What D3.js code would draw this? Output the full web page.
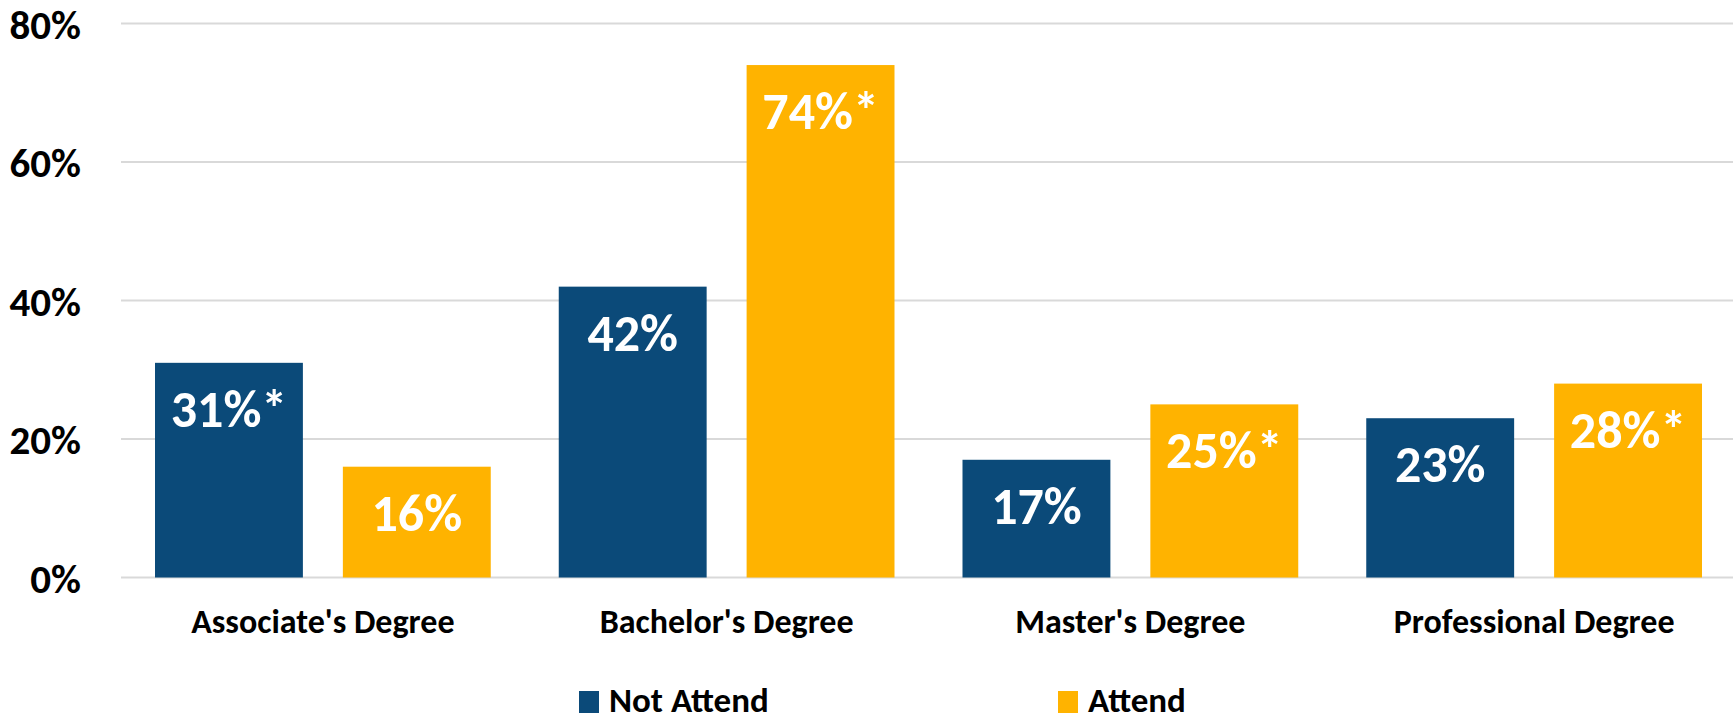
<!DOCTYPE html>
<html>
<head>
<meta charset="utf-8">
<script src="https://cdn.jsdelivr.net/npm/d3@7"></script>
<style>
  html, body { margin: 0; padding: 0; background: #fff; }
  svg text { font-family: Carlito, Calibri, Lato, sans-serif; font-weight: bold; }
</style>
</head>
<body>
<svg id="chart" width="1736" height="721"></svg>
<script>
// Degree categories and share of each group (percent)
const categories = ["Associate's Degree", "Bachelor's Degree", "Master's Degree", "Professional Degree"];
const seriesNames = ["Not Attend", "Attend"];
const notAttend = [31, 42, 17, 23];
const attend = [16, 74, 25, 28];
// Significance markers appended to value labels
const notAttendMark = ["*", "", "", ""];
const attendMark = ["", "*", "*", "*"];
const yTicks = [0, 20, 40, 60, 80];

const colors = { "Not Attend": "#0B4A79", "Attend": "#FFB300" };

const svg = d3.select("#chart");
const margin = { left: 121, right: 0, top: 23.5, bottom: 143.5 };
const W = 1736, H = 721;
const innerW = W - margin.left - margin.right;
const innerH = H - margin.top - margin.bottom;

const g = svg.append("g").attr("transform", `translate(${margin.left},${margin.top})`);

const x0 = d3.scaleBand().domain(categories).range([0, innerW]);
const x1 = d3.scaleBand().domain(seriesNames).range([34, x0.bandwidth() - 34]).paddingInner(40 / 188);
const y = d3.scaleLinear().domain([0, 80]).range([innerH, 0]);

// gridlines
g.append("g").selectAll("line").data(yTicks).join("line")
  .attr("x1", 0).attr("x2", innerW - 3)
  .attr("y1", d => y(d)).attr("y2", d => y(d))
  .attr("stroke", "#D9D9D9").attr("stroke-width", 2);

// y axis labels
const yAxis = d3.axisLeft(y).tickValues(yTicks).tickFormat(d => d + "%").tickSize(0).tickPadding(40);
const ya = g.append("g").call(yAxis);
ya.select(".domain").remove();
ya.selectAll("text").attr("font-size", 41).attr("fill", "#000").attr("dy", "0.36em")
  .style("font-family", "Carlito, Calibri, Lato, sans-serif");

const rows = categories.map((c, i) => ({
  cat: c,
  vals: [
    { s: "Not Attend", v: notAttend[i], m: notAttendMark[i] },
    { s: "Attend", v: attend[i], m: attendMark[i] }
  ]
}));

const groups = g.selectAll("g.cat").data(rows).join("g").attr("class", "cat")
  .attr("transform", d => `translate(${x0(d.cat)},0)`);

groups.selectAll("rect").data(d => d.vals).join("rect")
  .attr("x", d => x1(d.s)).attr("width", x1.bandwidth())
  .attr("y", d => y(d.v)).attr("height", d => innerH - y(d.v))
  .attr("fill", d => colors[d.s]);

groups.selectAll("text.val").data(d => d.vals).join("text").attr("class", "val")
  .attr("x", d => x1(d.s) + x1.bandwidth() / 2)
  .attr("y", d => y(d.v) + 64)
  .attr("text-anchor", "middle").attr("fill", "#fff").attr("font-size", 52)
  .text(d => d.v + "%" + d.m);

// category axis labels
const xAxis = d3.axisBottom(x0).tickSize(0).tickPadding(0);
const xa = g.append("g").attr("transform", `translate(0,${innerH})`).call(xAxis);
xa.select(".domain").remove();
xa.selectAll("text").attr("font-size", 34).attr("fill", "#000").attr("dy", 0).attr("y", 55)
  .style("font-family", "Carlito, Calibri, Lato, sans-serif");

// legend
const legendItems = [
  { s: "Not Attend", x: 579 },
  { s: "Attend", x: 1058 }
];
const lg = svg.append("g").selectAll("g").data(legendItems).join("g")
  .attr("transform", d => `translate(${d.x},691)`);
lg.append("rect").attr("width", 20).attr("height", 22).attr("fill", d => colors[d.s]);
lg.append("text").attr("x", 30).attr("y", 21).attr("font-size", 35).attr("fill", "#000").text(d => d.s);
</script>
</body>
</html>
